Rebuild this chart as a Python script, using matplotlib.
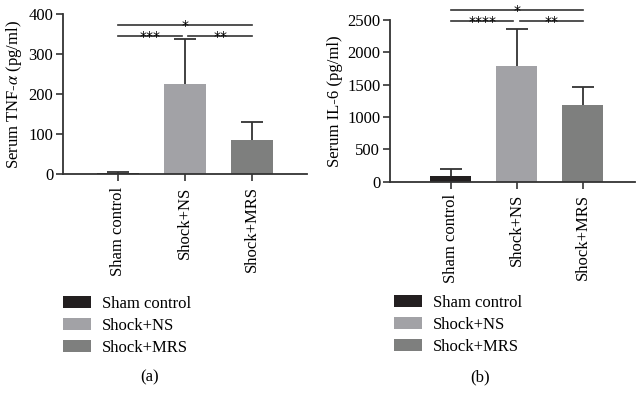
import matplotlib.pyplot as plt
from matplotlib.patches import Patch

groups = ['Sham control', 'Shock+NS', 'Shock+MRS']
colors = ['#231f20', '#a2a2a6', '#7e7f7e']

tnf_mean = [3, 225, 84]
tnf_sd = [2, 112, 46]
il6_mean = [93, 1793, 1181]
il6_sd = [103, 563, 288]

# significance brackets: (left group, right group, y value, label)
tnf_sig = [(0, 2, 372, '*'), (0, 0.95, 345, '***'), (1.05, 2, 345, '**')]
il6_sig = [(0, 2, 2655, '*'), (0, 0.95, 2490, '****'), (1.05, 2, 2490, '**')]

plt.rcParams['font.family'] = ['Liberation Serif', 'DejaVu Serif']
plt.rcParams['mathtext.fontset'] = 'stix'

W, H = 639, 400
fig = plt.figure(figsize=(W / 100, H / 100), dpi=100)


def make_panel(rect, mean, sd, sig, ylim, yticks, ylabel, xlim, legend_xy, caption, caption_xy):
    ax = fig.add_axes(rect)
    x = list(range(len(groups)))
    ax.bar(x, mean, width=0.62, color=colors, zorder=2)
    eb = ax.errorbar(x, mean, yerr=[[0] * len(sd), sd], fmt='none', ecolor='#333333',
                     elinewidth=1.3, capsize=8, capthick=1.3, zorder=3)
    # keep only the upper caps
    for cap in eb[1]:
        if list(cap.get_ydata()) == list(mean):
            cap.set_visible(False)
    ax.set_xlim(*xlim)
    ax.set_ylim(*ylim)
    ax.set_yticks(yticks)
    ax.set_xticks(x)
    ax.set_xticklabels(groups, rotation=90, fontsize=12)
    ax.tick_params(axis='y', labelsize=12, length=5, width=1.2, color='#333333', pad=2)
    ax.tick_params(axis='x', length=5, width=1.2, color='#333333', pad=4)
    ax.set_ylabel(ylabel, fontsize=12, labelpad=3)
    for s in ['top', 'right']:
        ax.spines[s].set_visible(False)
    for s in ['left', 'bottom']:
        ax.spines[s].set_linewidth(1.3)
        ax.spines[s].set_color('#333333')
    for x0, x1, yv, lab in sig:
        ax.plot([x0, x1], [yv, yv], color='#333333', lw=1.2, clip_on=False)
        ax.annotate(lab, ((x0 + x1) / 2, yv), xytext=(0, -3.5), textcoords='offset points',
                    ha='center', va='baseline', fontsize=10, family='DejaVu Sans',
                    annotation_clip=False)
    handles = [Patch(facecolor=c, edgecolor='none') for c in colors]
    fig.legend(handles, groups, loc='upper left', bbox_to_anchor=legend_xy, frameon=False,
               fontsize=12, handlelength=1.7, handleheight=0.7, handletextpad=0.65,
               labelspacing=0.35, borderaxespad=0, borderpad=0)
    fig.text(caption_xy[0], caption_xy[1], caption, ha='center', va='center', fontsize=12)
    return ax


make_panel([63 / W, 1 - 174 / H, 244 / W, 160 / H], tnf_mean, tnf_sd, tnf_sig,
           (0, 400), [0, 100, 200, 300, 400], 'Serum TNF-$\\alpha$ (pg/ml)', (-0.82, 2.82),
           (63 / W, 1 - 296 / H), '(a)', (150 / W, 1 - 377 / H))
make_panel([390 / W, 1 - 181.7 / H, 245 / W, 161.7 / H], il6_mean, il6_sd, il6_sig,
           (0, 2500), [0, 500, 1000, 1500, 2000, 2500], 'Serum IL-6 (pg/ml)', (-0.92, 2.79),
           (394 / W, 1 - 295 / H), '(b)', (480 / W, 1 - 377 / H))

fig.savefig('out.png', dpi=100)
